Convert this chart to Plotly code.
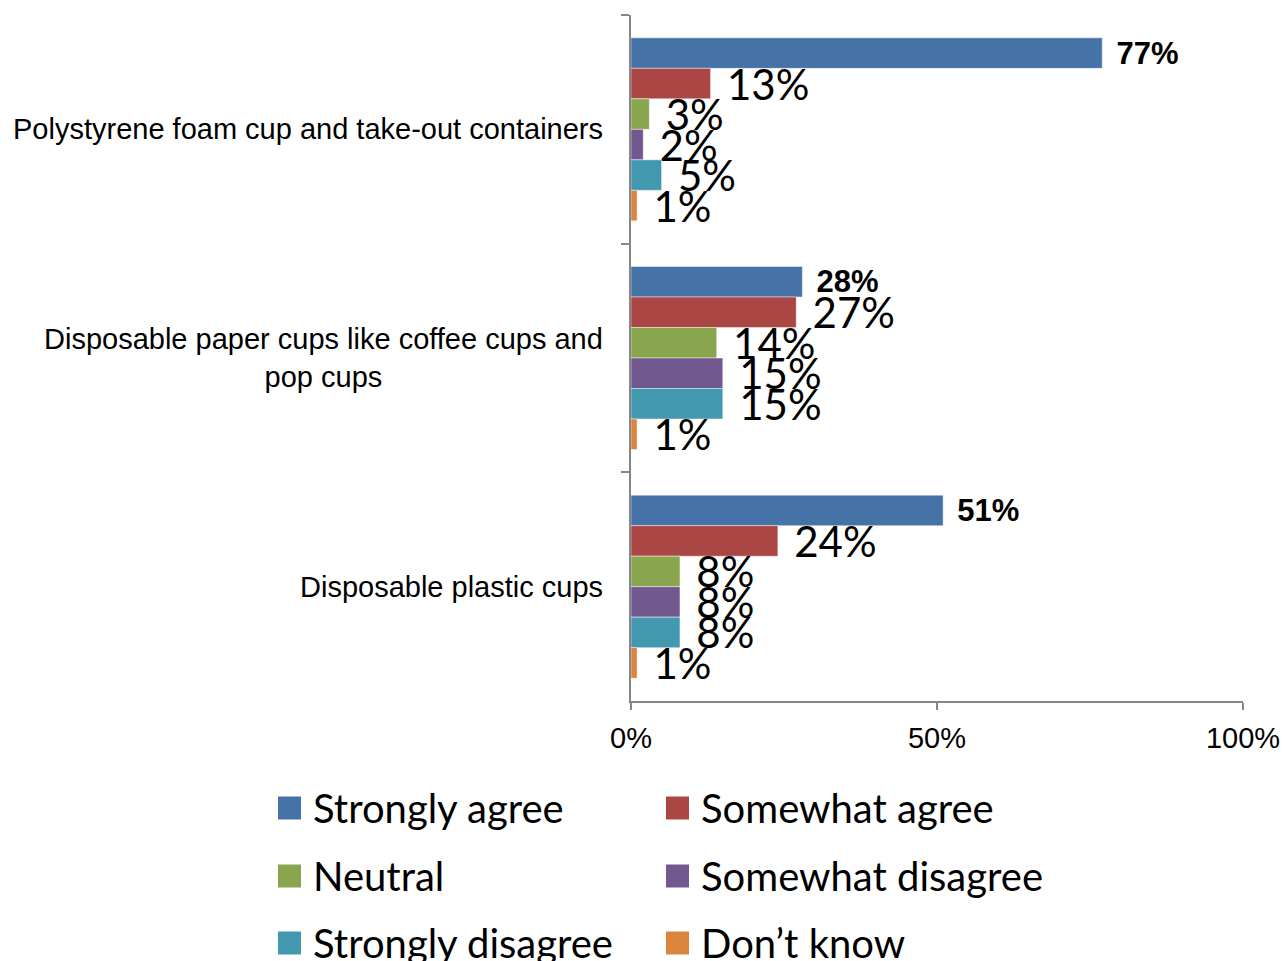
import plotly.graph_objects as go

# Survey categories (top to bottom) and response series
categories = [
    "Polystyrene foam cup and take-out containers",
    "Disposable paper cups like coffee cups and<br>pop cups",
    "Disposable plastic cups",
]
series_names = ["Strongly agree", "Somewhat agree", "Neutral",
                "Somewhat disagree", "Strongly disagree", "Don\u2019t know"]
strongly_agree = [77, 28, 51]
somewhat_agree = [13, 27, 24]
neutral = [3, 14, 8]
somewhat_disagree = [2, 15, 8]
strongly_disagree = [5, 15, 8]
dont_know = [1, 1, 1]
series_values = [strongly_agree, somewhat_agree, neutral,
                 somewhat_disagree, strongly_disagree, dont_know]
colors = ["#4572A7", "#AA4643", "#89A54E", "#71588F", "#4198AF", "#DB843D"]
x_ticks = [0, 50, 100]
x_tick_labels = ["0%", "50%", "100%"]

W, H = 1286, 961
L, R, T, B = 631, 43, 15, 260
AXIS_GREY = "#868686"
ARIAL = "Liberation Sans, Arial, sans-serif"
CALIBRI_LIKE = "Lato, Open Sans, sans-serif"

fig = go.Figure()
for i, (name, vals, col) in enumerate(zip(series_names, series_values, colors)):
    first = i == 0
    fig.add_trace(go.Bar(
        y=categories, x=vals, name=name, orientation="h",
        marker=dict(color=col, line=dict(color="rgba(255,255,255,0.45)", width=1)),
        texttemplate="\u00a0\u200a%{x}%",
        textposition="outside",
        constraintext="none",
        cliponaxis=False,
        textfont=dict(family=ARIAL if first else CALIBRI_LIKE,
                      size=31 if first else 42,
                      color="#000000",
                      weight="bold" if first else "normal"),
        showlegend=False,
        hoverinfo="skip",
    ))

plot_w = W - L - R
plot_h = H - T - B


def px_x(px):
    return (px - L) / plot_w


def px_y(py):
    return (H - B - py) / plot_h


# Category labels, centred lines, right-aligned against the axis
annotations = []
for cat in categories:
    annotations.append(dict(
        x=0, xref="paper", y=cat, yref="y", xanchor="right", yanchor="middle",
        xshift=-26, text=cat, showarrow=False, align="center",
        font=dict(family=ARIAL, size=29, color="#000000"),
    ))

# Two-column legend beneath the chart
shapes = []
col_x = [278, 666]
row_y = [808, 876, 943]
sw = 23
for i, (name, col) in enumerate(zip(series_names, colors)):
    cx = col_x[i % 2]
    cy = row_y[i // 2]
    shapes.append(dict(
        type="rect", xref="paper", yref="paper",
        x0=px_x(cx), x1=px_x(cx + sw),
        y0=px_y(cy + sw / 2), y1=px_y(cy - sw / 2),
        fillcolor=col, line=dict(width=0),
    ))
    annotations.append(dict(
        x=px_x(cx + sw + 10), xref="paper", y=px_y(cy), yref="paper",
        xanchor="left", yanchor="middle", text=name, showarrow=False,
        font=dict(family=CALIBRI_LIKE, size=40, color="#000000"),
    ))

fig.update_layout(
    width=W, height=H,
    margin=dict(l=L, r=R, t=T, b=B, pad=0, autoexpand=False),
    barmode="group", bargap=0.2, bargroupgap=0,
    paper_bgcolor="white", plot_bgcolor="white",
    showlegend=False,
    annotations=annotations,
    shapes=shapes,
    xaxis=dict(
        range=[0, 100], tickvals=x_ticks, ticktext=x_tick_labels,
        automargin=False,
        showgrid=False, zeroline=False, showline=True,
        linecolor=AXIS_GREY, linewidth=1.5,
        ticks="outside", ticklen=7, tickcolor=AXIS_GREY, tickwidth=1.5,
        ticklabelstandoff=3,
        tickfont=dict(family=ARIAL, size=29, color="#000000"),
    ),
    yaxis=dict(
        type="category", categoryorder="array", categoryarray=categories,
        autorange="reversed", showticklabels=False, automargin=False,
        showgrid=False, zeroline=False, showline=True,
        linecolor=AXIS_GREY, linewidth=1.5,
        ticks="outside", ticklen=8, tickcolor=AXIS_GREY, tickwidth=1.5,
        tickson="boundaries",
    ),
)

fig.write_html("out.html")
